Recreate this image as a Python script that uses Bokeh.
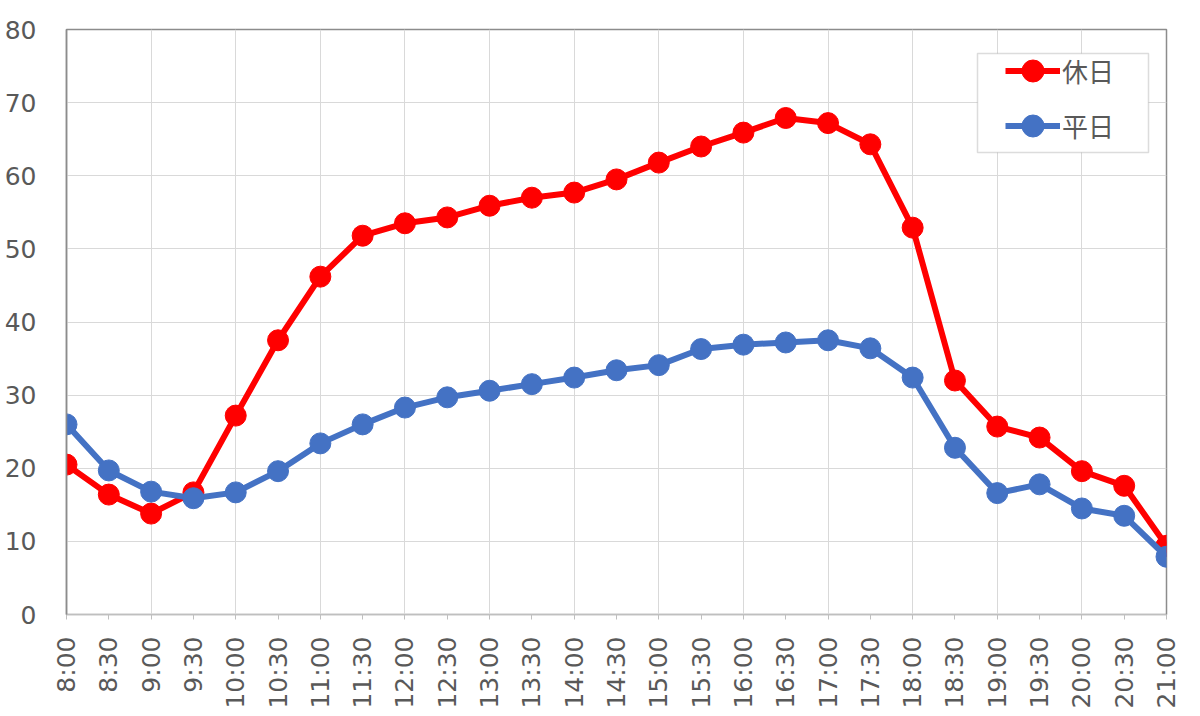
import math
from bokeh.plotting import figure
from bokeh.models import Range1d, FixedTicker, Legend, LegendItem, BoxAnnotation
from bokeh.embed import file_html
from bokeh.resources import INLINE

times = ["8:00", "8:30", "9:00", "9:30", "10:00", "10:30", "11:00", "11:30", "12:00",
         "12:30", "13:00", "13:30", "14:00", "14:30", "15:00", "15:30", "16:00", "16:30",
         "17:00", "17:30", "18:00", "18:30", "19:00", "19:30", "20:00", "20:30", "21:00"]
holiday = [20.5, 16.4, 13.8, 16.7, 27.2, 37.5, 46.2, 51.8, 53.5, 54.3, 55.9, 57.0, 57.7,
           59.5, 61.8, 64.0, 65.9, 67.9, 67.2, 64.3, 52.9, 32.0, 25.7, 24.2, 19.6, 17.6, 9.4]
weekday = [26.0, 19.7, 16.8, 15.9, 16.7, 19.6, 23.4, 26.0, 28.3, 29.7, 30.6, 31.5, 32.4,
           33.4, 34.1, 36.3, 36.9, 37.2, 37.5, 36.4, 32.4, 22.8, 16.6, 17.8, 14.5, 13.5, 7.9]
y_ticks = [0, 10, 20, 30, 40, 50, 60, 70, 80]
series_names = ["休日", "平日"]

xs = list(range(len(times)))

p = figure(width=1200, height=716, x_range=Range1d(0, len(times) - 1), y_range=Range1d(0, 80),
           output_backend="svg", toolbar_location=None,
           min_border_left=66, min_border_right=34, min_border_top=29, min_border_bottom=102)
p.background_fill_color = "white"
p.border_fill_color = "white"
p.outline_line_color = "#8c8c8c"
p.outline_line_width = 1.5

# grids
p.xgrid.ticker = FixedTicker(ticks=xs[::2])
p.xgrid.grid_line_color = "#d9d9d9"
p.ygrid.grid_line_color = "#d9d9d9"
p.ygrid.ticker = FixedTicker(ticks=y_ticks)

# x axis
p.xaxis.ticker = FixedTicker(ticks=xs)
p.xaxis.major_label_overrides = {i: t for i, t in enumerate(times)}
p.xaxis.major_label_orientation = math.pi / 2
p.xaxis.minor_tick_line_color = None
p.xaxis.major_tick_in = 0
p.xaxis.major_tick_out = 5
p.xaxis.major_tick_line_color = "#bfbfbf"
p.xaxis.axis_line_color = "#bfbfbf"
p.xaxis.major_label_standoff = 17
p.xaxis.major_label_text_font = "DejaVu Sans"
p.xaxis.major_label_text_font_size = "25px"
p.xaxis.major_label_text_color = "#595959"

# y axis
p.yaxis.ticker = FixedTicker(ticks=y_ticks)
p.yaxis.minor_tick_line_color = None
p.yaxis.major_tick_line_color = None
p.yaxis.axis_line_color = "#8c8c8c"
p.yaxis.axis_line_width = 1.5
p.yaxis.major_label_standoff = 24
p.yaxis.major_label_text_font = "DejaVu Sans"
p.yaxis.major_label_text_font_size = "25px"
p.yaxis.major_label_text_color = "#595959"

red = "#ff0000"
blue = "#4472c4"

l1 = p.line(xs, holiday, line_color=red, line_width=6)
s1 = p.scatter(xs, holiday, size=21, fill_color=red, line_color=red)
l2 = p.line(xs, weekday, line_color=blue, line_width=6)
s2 = p.scatter(xs, weekday, size=21, fill_color=blue, line_color=blue)

# legend frame (screen units relative to plot frame, y from bottom)
box = BoxAnnotation(left=911, right=1082, bottom=462, top=561,
                    left_units="screen", right_units="screen",
                    bottom_units="screen", top_units="screen",
                    fill_color="white", fill_alpha=1.0,
                    line_color="#8c8c8c", line_width=1.5)
p.add_layout(box)

legend = Legend(items=[LegendItem(label=series_names[0], renderers=[l1, s1]),
                       LegendItem(label=series_names[1], renderers=[l2, s2])],
                location=(939, 461))
legend.border_line_color = None
legend.background_fill_alpha = 0
legend.label_text_font = "Noto Sans CJK JP"
legend.label_text_font_size = "26px"
legend.label_text_color = "#595959"
legend.glyph_width = 55
legend.glyph_height = 55
legend.label_height = 30
legend.label_standoff = 2
legend.padding = 0
legend.spacing = -6
legend.margin = 0
p.add_layout(legend, "center")

open("out.html", "w").write(file_html(p, INLINE))
